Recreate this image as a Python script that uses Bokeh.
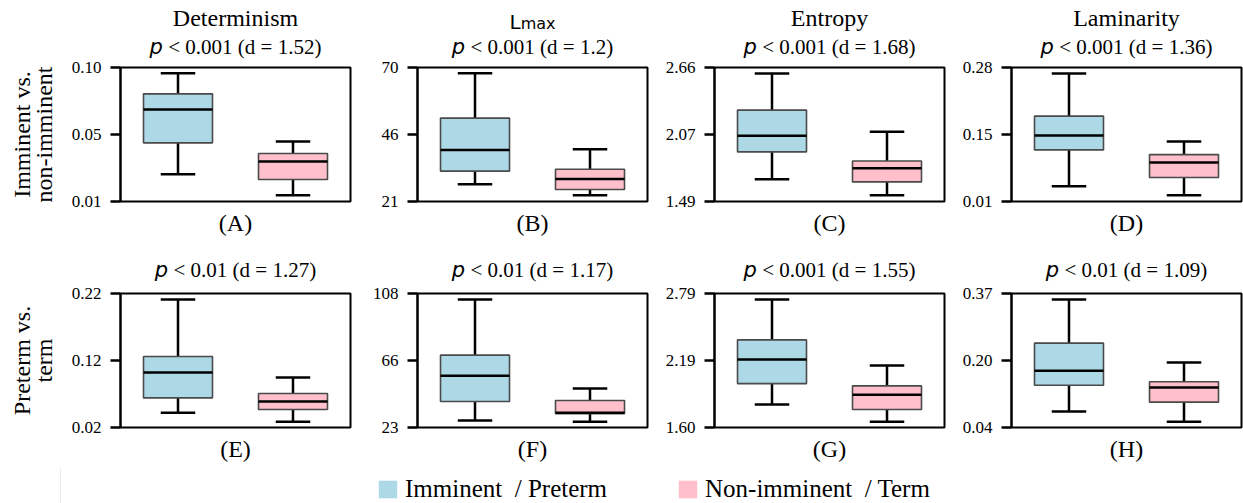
import math
from bokeh.plotting import figure
from bokeh.layouts import column, row
from bokeh.models import Range1d, FixedTicker, Label, Legend, LegendItem, ColumnDataSource
from bokeh.embed import file_html
from bokeh.resources import INLINE

# ---------------- data ----------------
group_pos = [1, 2]
group_colors = ["#ADD8E6", "#FFC0CB"]
legend_labels = ["Imminent  / Preterm", "Non-imminent  / Term"]

metric_titles = ["Determinism", "Lmax", "Entropy", "Laminarity"]
p_text_row1 = ["< 0.001 (d = 1.52)", "< 0.001 (d = 1.2)", "< 0.001 (d = 1.68)", "< 0.001 (d = 1.36)"]
p_text_row2 = ["< 0.01 (d = 1.27)", "< 0.01 (d = 1.17)", "< 0.001 (d = 1.55)", "< 0.01 (d = 1.09)"]
panel_tags_row1 = ["(A)", "(B)", "(C)", "(D)"]
panel_tags_row2 = ["(E)", "(F)", "(G)", "(H)"]
row_label_row1 = ["Imminent vs.", "non-imminent"]
row_label_row2 = ["Preterm vs.", "term"]

y_lo_row1 = [0.01, 21, 1.49, 0.01]
y_hi_row1 = [0.10, 70, 2.66, 0.28]
tick_labels_row1 = [["0.01", "0.05", "0.10"], ["21", "46", "70"],
                    ["1.49", "2.07", "2.66"], ["0.01", "0.15", "0.28"]]
y_lo_row2 = [0.02, 23, 1.60, 0.04]
y_hi_row2 = [0.22, 108, 2.79, 0.37]
tick_labels_row2 = [["0.02", "0.12", "0.22"], ["23", "66", "108"],
                    ["1.60", "2.19", "2.79"], ["0.04", "0.20", "0.37"]]

# five-number summaries: [lower whisker, Q1, median, Q3, upper whisker]
A_first = [0.0283, 0.0494, 0.0718, 0.0823, 0.0962]
A_second = [0.0142, 0.0248, 0.0369, 0.0422, 0.0503]
B_first = [27.3, 32.1, 39.8, 51.5, 67.9]
B_second = [23.3, 25.4, 29.2, 32.8, 40.1]
C_first = [1.684, 1.923, 2.065, 2.288, 2.607]
C_second = [1.545, 1.661, 1.780, 1.844, 2.100]
D_first = [0.0408, 0.114, 0.143, 0.182, 0.268]
D_second = [0.0228, 0.0583, 0.0884, 0.1045, 0.131]
E_first = [0.0419, 0.0642, 0.102, 0.126, 0.211]
E_second = [0.0285, 0.0469, 0.0588, 0.0708, 0.0946]
F_first = [27.4, 39.5, 55.8, 68.9, 104.2]
F_second = [26.6, 31.8, 32.4, 40.1, 47.7]
G_first = [1.805, 1.990, 2.203, 2.378, 2.737]
G_second = [1.650, 1.760, 1.890, 1.970, 2.151]
H_first = [0.0794, 0.144, 0.180, 0.2477, 0.355]
H_second = [0.0539, 0.1025, 0.1387, 0.1526, 0.200]

row1_stats = [(A_first, A_second), (B_first, B_second), (C_first, C_second), (D_first, D_second)]
row2_stats = [(E_first, E_second), (F_first, F_second), (G_first, G_second), (H_first, H_second)]

# ---------------- styling ----------------
SERIF = "Liberation Serif"
SANS = "DejaVu Sans"
FRAME_H = 134
LABEL_COL_W = 60
col_widths = [300, 297, 297, 289]
col_left = [60, 57, 57, 57]
col_right = [10, 10, 10, 2]

TIMES_W = {'<': 0.564, '=': 0.564, '(': 0.333, ')': 0.333, '.': 0.25, ' ': 0.25, 'd': 0.5}


def times_width(s, size):
    return sum(TIMES_W.get(ch, 0.5) for ch in s) * size


def blank_fig(width, height, xr, yr, left=0, right=0):
    f = figure(width=width, height=height, x_range=xr, y_range=yr, toolbar_location=None,
               output_backend="svg", x_axis_location=None, y_axis_location=None, title=None,
               min_border_left=left, min_border_right=right, min_border_top=0, min_border_bottom=0)
    f.outline_line_color = None
    f.grid.visible = False
    f.background_fill_color = "white"
    f.border_fill_color = "white"
    return f


def header(ci, height, title, ptxt, p_mid, t_mid):
    h = blank_fig(col_widths[ci], height, Range1d(0.5, 2.5), Range1d(0, height),
                  left=col_left[ci], right=col_right[ci])
    p_size = 21
    p_w = 0.635 * p_size
    sp = 0.25 * p_size
    total = p_w + sp + times_width(ptxt, p_size)
    h.add_layout(Label(x=1.5, y=p_mid, x_offset=-total / 2, text="p",
                       text_font=SANS, text_font_style="italic", text_font_size=f"{p_size}px",
                       text_align="left", text_baseline="middle", text_color="black"))
    h.add_layout(Label(x=1.5, y=p_mid, x_offset=-total / 2 + p_w + sp, text=ptxt,
                       text_font=SERIF, text_font_size=f"{p_size}px",
                       text_align="left", text_baseline="middle", text_color="black"))
    if title == "Lmax":
        lw = 0.557 * 20
        mw = 2.179 * 16
        tw = lw + mw
        h.add_layout(Label(x=1.5, y=t_mid - 4, x_offset=-tw / 2, text="L",
                           text_font=SANS, text_font_size="20px", text_align="left",
                           text_baseline="middle", text_color="black"))
        h.add_layout(Label(x=1.5, y=t_mid - 5.5, x_offset=-tw / 2 + lw, text="max",
                           text_font=SANS, text_font_size="16px", text_align="left",
                           text_baseline="middle", text_color="black"))
    elif title is not None:
        h.add_layout(Label(x=1.5, y=t_mid, text=title,
                           text_font=SERIF, text_font_size="24px", text_align="center",
                           text_baseline="middle", text_color="black"))
    return h


def panel(ci, stats, lo, hi, tlabels, tag, pad_top, bottom_border):
    height = pad_top + FRAME_H + bottom_border
    p = figure(width=col_widths[ci], height=height, x_range=Range1d(0.5, 2.5),
               y_range=Range1d(lo, hi), toolbar_location=None, output_backend="svg",
               title=None, min_border_left=col_left[ci], min_border_right=col_right[ci],
               min_border_top=pad_top, min_border_bottom=bottom_border)
    p.grid.visible = False
    p.outline_line_color = "black"
    p.outline_line_width = 2
    p.background_fill_color = "white"
    p.border_fill_color = "white"

    xa = p.xaxis[0]
    xa.ticker = FixedTicker(ticks=[])
    xa.axis_line_color = None
    xa.major_tick_line_color = None
    xa.minor_tick_line_color = None
    xa.major_tick_out = 0
    xa.major_tick_in = 0
    xa.minor_tick_out = 0
    xa.major_label_standoff = 0
    xa.axis_label = tag
    xa.axis_label_standoff = 8
    xa.axis_label_text_font = SERIF
    xa.axis_label_text_font_size = "24px"
    xa.axis_label_text_font_style = "normal"
    xa.axis_label_text_color = "black"

    ticks = [lo, (lo + hi) / 2, hi]
    ax = p.yaxis[0]
    ax.ticker = FixedTicker(ticks=ticks)
    ax.major_label_overrides = {t: l for t, l in zip(ticks, tlabels)}
    ax.minor_tick_line_color = None
    ax.axis_line_width = 2
    ax.axis_line_color = "black"
    ax.major_tick_line_width = 2.5
    ax.major_tick_line_color = "black"
    ax.major_tick_out = 10
    ax.major_tick_in = 0
    ax.major_label_standoff = 9
    ax.major_label_text_font = SERIF
    ax.major_label_text_font_size = "17px"
    ax.major_label_text_color = "black"

    for g, s, col in zip(group_pos, stats, group_colors):
        low, q1, med, q3, high = s
        src = ColumnDataSource(dict(x=[g], low=[low], q1=[q1], med=[med], q3=[q3], high=[high],
                                    cl=[g - 0.15], cr=[g + 0.15], bl=[g - 0.3], br=[g + 0.3]))
        p.segment(x0="x", x1="x", y0="q3", y1="high", source=src, line_color="black", line_width=2.5)
        p.segment(x0="x", x1="x", y0="low", y1="q1", source=src, line_color="black", line_width=2.5)
        p.segment(x0="cl", x1="cr", y0="high", y1="high", source=src, line_color="black", line_width=2.5)
        p.segment(x0="cl", x1="cr", y0="low", y1="low", source=src, line_color="black", line_width=2.5)
        p.vbar(x="x", bottom="q1", top="q3", width=0.6, source=src, fill_color=col,
               line_color="#4a4a4a", line_width=1.6)
        p.segment(x0="bl", x1="br", y0="med", y1="med", source=src, line_color="black", line_width=2.5)
    return p


TOTAL_H = 503
PAD1, PAD2 = 8, 10
H1_HEAD, H1_BOTTOM = 67 - PAD1, 40
H2_HEAD, H2_BOTTOM = 52 - PAD2, 41
ROW1_H = H1_HEAD + PAD1 + FRAME_H + H1_BOTTOM
ROW2_H = H2_HEAD + PAD2 + FRAME_H + H2_BOTTOM
LEG_H = TOTAL_H - ROW1_H - ROW2_H

# header text centres (pixels up from each header's bottom edge)
head1 = [header(i, H1_HEAD, metric_titles[i], p_text_row1[i], H1_HEAD - 46, H1_HEAD - 17) for i in range(4)]
pan1 = [panel(i, row1_stats[i], y_lo_row1[i], y_hi_row1[i], tick_labels_row1[i],
              panel_tags_row1[i], PAD1, H1_BOTTOM) for i in range(4)]
head2 = [header(i, H2_HEAD, None, p_text_row2[i], H2_HEAD - (269.5 - ROW1_H), None) for i in range(4)]
pan2 = [panel(i, row2_stats[i], y_lo_row2[i], y_hi_row2[i], tick_labels_row2[i],
              panel_tags_row2[i], PAD2, H2_BOTTOM) for i in range(4)]

# left strip with the rotated row labels
row1_mid = H1_HEAD + PAD1 + FRAME_H / 2
row2_mid = ROW1_H + H2_HEAD + PAD2 + FRAME_H / 2
side = blank_fig(LABEL_COL_W, TOTAL_H, Range1d(0, LABEL_COL_W), Range1d(0, TOTAL_H))
for mid, lines in [(row1_mid, row_label_row1), (row2_mid, row_label_row2)]:
    for xx, t in zip([21, 43], lines):
        side.add_layout(Label(x=xx, y=TOTAL_H - mid, text=t, angle=math.pi / 2, text_font=SERIF,
                              text_font_size="24px", text_align="center",
                              text_baseline="middle", text_color="black"))

right_w = sum(col_widths)
leg = blank_fig(right_w, LEG_H, Range1d(0, 1), Range1d(0, 1))
rends = []
for col in group_colors:
    rends.append(leg.vbar(x=[-5], top=[1], bottom=[0], width=0.1, fill_color=col, line_color=None))
legend = Legend(items=[LegendItem(label=l, renderers=[r]) for l, r in zip(legend_labels, rends)],
                location=(376 - LABEL_COL_W, 0), orientation="horizontal", glyph_width=23,
                glyph_height=22, label_standoff=6, spacing=69, padding=0, margin=0,
                border_line_color=None, background_fill_alpha=0, label_text_font=SERIF,
                label_text_font_size="25px", label_text_color="black")
leg.add_layout(legend)

right = column(row(*head1, spacing=0),
               row(*pan1, spacing=0),
               row(*head2, spacing=0),
               row(*pan2, spacing=0),
               leg, spacing=0)
layout = row(side, right, spacing=0)
open("out.html", "w").write(file_html(layout, INLINE))
